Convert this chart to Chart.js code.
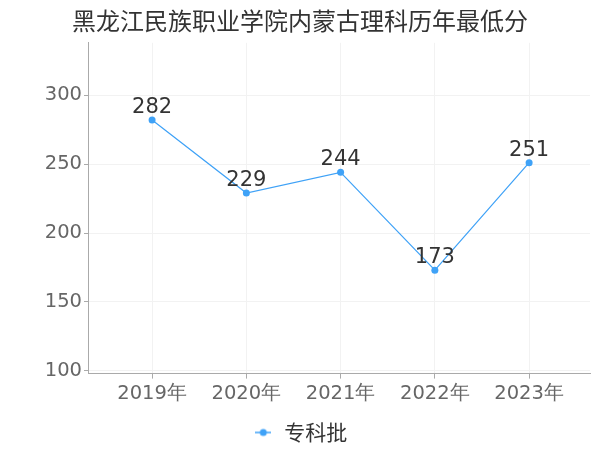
<!DOCTYPE html>
<html>
<head>
<meta charset="utf-8">
<script src="https://cdn.jsdelivr.net/npm/chart.js@4"></script>
<style>
  html, body { margin: 0; padding: 0; background: #fff; }
  #wrap { width: 600px; height: 450px; }
</style>
</head>
<body>
<div id="wrap"><canvas id="chart"></canvas></div>
<script>
// data
var years = ["2019年", "2020年", "2021年", "2022年", "2023年"];
var scores = [282, 229, 244, 173, 251];
var yTicks = [100, 150, 200, 250, 300];
var seriesName = "专科批";
var titleText = "黑龙江民族职业学院内蒙古理科历年最低分";

var lineColor = "#3fa2f7";
var numFont = "'DejaVu Sans', Verdana, sans-serif";
var cjkFont = "'Noto Sans CJK SC', 'DejaVu Sans', sans-serif";

// legend marker: short line with a dot
var marker = document.createElement('canvas');
marker.width = 16;
marker.height = 10;
var mctx = marker.getContext('2d');
mctx.strokeStyle = lineColor;
mctx.lineWidth = 1.5;
mctx.beginPath();
mctx.moveTo(0, 5);
mctx.lineTo(16, 5);
mctx.stroke();
mctx.fillStyle = lineColor;
mctx.beginPath();
mctx.arc(8, 5, 3.5, 0, Math.PI * 2);
mctx.fill();

// value labels above the points
var valueLabels = {
    id: 'valueLabels',
    afterDatasetsDraw: function (chart) {
        var ctx = chart.ctx;
        var meta = chart.getDatasetMeta(0);
        ctx.save();
        ctx.font = "21px " + numFont;
        ctx.fillStyle = "#333";
        ctx.textAlign = "center";
        ctx.textBaseline = "bottom";
        meta.data.forEach(function (pt, i) {
            ctx.fillText(String(scores[i]), pt.x, pt.y - 2);
        });
        ctx.restore();
    }
};

var points = scores.map(function (v, i) { return { x: i, y: v }; });

new Chart(document.getElementById('chart'), {
    type: 'line',
    data: {
        datasets: [{
            label: seriesName,
            data: points,
            borderColor: lineColor,
            backgroundColor: lineColor,
            borderWidth: 1.2,
            pointStyle: 'circle',
            pointRadius: 3.5,
            pointHoverRadius: 3.5,
            pointBackgroundColor: lineColor,
            pointBorderWidth: 0,
            tension: 0
        }]
    },
    options: {
        responsive: true,
        maintainAspectRatio: false,
        animation: false,
        layout: { padding: { left: 10, right: 10, top: 0, bottom: -3 } },
        plugins: {
            title: {
                display: true,
                text: titleText,
                color: "#333",
                font: { family: cjkFont, size: 24, weight: 'normal' },
                padding: { top: 6, bottom: 8 }
            },
            legend: {
                position: 'bottom',
                labels: {
                    color: "#333",
                    font: { family: cjkFont, size: 21 },
                    usePointStyle: true,
                    pointStyle: marker,
                    padding: 6
                }
            },
            tooltip: { enabled: false }
        },
        scales: {
            x: {
                type: 'linear',
                min: -0.68,
                max: 4.646,
                afterBuildTicks: function (axis) {
                    axis.ticks = years.map(function (y, i) { return { value: i }; });
                },
                afterFit: function (axis) { axis.height += 6; },
                ticks: {
                    color: "#666",
                    font: { family: numFont, size: 19.5 },
                    padding: 4,
                    callback: function (v) { return years[v]; }
                },
                grid: { color: "#f2f2f2", tickColor: "#aaa", tickLength: 5 },
                border: { color: "#aaa" }
            },
            y: {
                min: 98,
                max: 338,
                afterBuildTicks: function (axis) {
                    axis.ticks = yTicks.map(function (v) { return { value: v }; });
                },
                afterFit: function (axis) { axis.width = 78; },
                ticks: {
                    color: "#666",
                    font: { family: numFont, size: 19.5 },
                    padding: 2
                },
                grid: { color: "#f2f2f2", tickColor: "#aaa", tickLength: 4 },
                border: { color: "#aaa" }
            }
        }
    },
    plugins: [valueLabels]
});
</script>
</body>
</html>
